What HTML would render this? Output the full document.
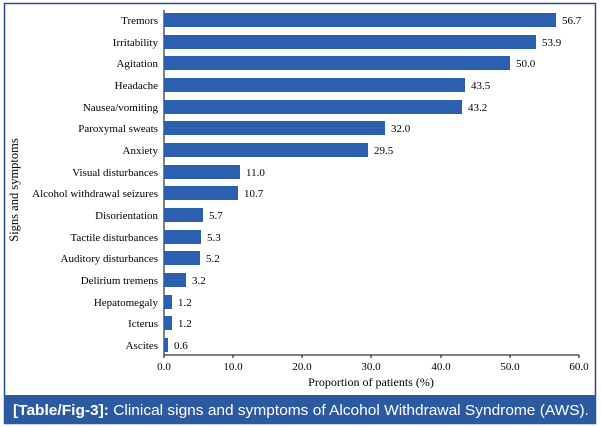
<!DOCTYPE html>
<html><head><style>
body{margin:0;background:#fff;}
</style></head><body>
<svg width="601" height="427" xmlns="http://www.w3.org/2000/svg" style="display:block">
<rect x="0" y="0" width="601" height="427" fill="#fff"/>
<rect x="4.5" y="3.5" width="591" height="420" fill="none" stroke="#2a4a8a" stroke-width="1.5"/>
<rect x="4" y="395" width="592" height="29" fill="#2c5aa0"/>
<text x="13" y="415" font-family="Liberation Sans, sans-serif" font-size="15" fill="#fff" textLength="576" lengthAdjust="spacingAndGlyphs"><tspan font-weight="bold">[Table/Fig-3]:</tspan>  Clinical signs and symptoms of Alcohol Withdrawal Syndrome (AWS).</text>
<g font-family="Liberation Serif, serif" font-size="11" fill="#000">
<text transform="translate(18,190) rotate(-90)" text-anchor="middle" font-size="12.5">Signs and symptoms</text>
<text x="371" y="386" text-anchor="middle" font-size="12">Proportion of patients (%)</text>
</g>
<line x1="164" y1="10" x2="164" y2="355" stroke="#000" stroke-width="1"/>
<line x1="164" y1="355" x2="579" y2="355" stroke="#000" stroke-width="1"/>
<g font-family="Liberation Serif, serif" font-size="11" text-anchor="middle">
<line x1="164" y1="355" x2="164" y2="358" stroke="#000"/><text x="164" y="370">0.0</text>
<line x1="233" y1="355" x2="233" y2="358" stroke="#000"/><text x="233" y="370">10.0</text>
<line x1="302" y1="355" x2="302" y2="358" stroke="#000"/><text x="302" y="370">20.0</text>
<line x1="371" y1="355" x2="371" y2="358" stroke="#000"/><text x="371" y="370">30.0</text>
<line x1="441" y1="355" x2="441" y2="358" stroke="#000"/><text x="441" y="370">40.0</text>
<line x1="510" y1="355" x2="510" y2="358" stroke="#000"/><text x="510" y="370">50.0</text>
<line x1="579" y1="355" x2="579" y2="358" stroke="#000"/><text x="579" y="370">60.0</text>
</g>
<g font-family="Liberation Serif, serif" font-size="11">
<rect x="164" y="13" width="392" height="14" fill="#2c5fb0"/><text x="158" y="24" text-anchor="end">Tremors</text><text x="562" y="24">56.7</text>
<rect x="164" y="35" width="372" height="14" fill="#2c5fb0"/><text x="158" y="46" text-anchor="end">Irritability</text><text x="542" y="46">53.9</text>
<rect x="164" y="56" width="346" height="14" fill="#2c5fb0"/><text x="158" y="67" text-anchor="end">Agitation</text><text x="516" y="67">50.0</text>
<rect x="164" y="78" width="301" height="14" fill="#2c5fb0"/><text x="158" y="89" text-anchor="end">Headache</text><text x="471" y="89">43.5</text>
<rect x="164" y="100" width="298" height="14" fill="#2c5fb0"/><text x="158" y="111" text-anchor="end">Nausea/vomiting</text><text x="468" y="111">43.2</text>
<rect x="164" y="121" width="221" height="14" fill="#2c5fb0"/><text x="158" y="132" text-anchor="end">Paroxymal sweats</text><text x="391" y="132">32.0</text>
<rect x="164" y="143" width="204" height="14" fill="#2c5fb0"/><text x="158" y="154" text-anchor="end">Anxiety</text><text x="374" y="154">29.5</text>
<rect x="164" y="165" width="76" height="14" fill="#2c5fb0"/><text x="158" y="176" text-anchor="end">Visual disturbances</text><text x="246" y="176">11.0</text>
<rect x="164" y="186" width="74" height="14" fill="#2c5fb0"/><text x="158" y="197" text-anchor="end">Alcohol withdrawal seizures</text><text x="244" y="197">10.7</text>
<rect x="164" y="208" width="39" height="14" fill="#2c5fb0"/><text x="158" y="219" text-anchor="end">Disorientation</text><text x="209" y="219">5.7</text>
<rect x="164" y="230" width="37" height="14" fill="#2c5fb0"/><text x="158" y="241" text-anchor="end">Tactile disturbances</text><text x="207" y="241">5.3</text>
<rect x="164" y="251" width="36" height="14" fill="#2c5fb0"/><text x="158" y="262" text-anchor="end">Auditory disturbances</text><text x="206" y="262">5.2</text>
<rect x="164" y="273" width="22" height="14" fill="#2c5fb0"/><text x="158" y="284" text-anchor="end">Delirium tremens</text><text x="192" y="284">3.2</text>
<rect x="164" y="295" width="8" height="14" fill="#2c5fb0"/><text x="158" y="306" text-anchor="end">Hepatomegaly</text><text x="178" y="306">1.2</text>
<rect x="164" y="316" width="8" height="14" fill="#2c5fb0"/><text x="158" y="327" text-anchor="end">Icterus</text><text x="178" y="327">1.2</text>
<rect x="164" y="338" width="4" height="14" fill="#2c5fb0"/><text x="158" y="349" text-anchor="end">Ascites</text><text x="174" y="349">0.6</text>
</g>
</svg>
</body></html>
